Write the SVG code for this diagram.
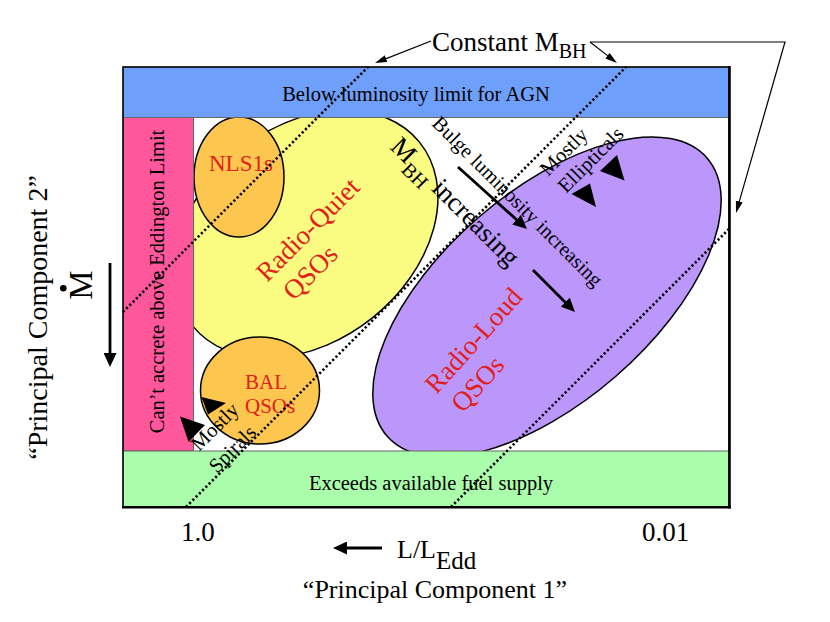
<svg xmlns="http://www.w3.org/2000/svg" width="830" height="622" viewBox="0 0 830 622">
<defs>
<marker id="headBig" markerUnits="userSpaceOnUse" markerWidth="15" markerHeight="13" refX="3" refY="6.5" orient="auto"><path d="M0,0 L14,6.5 L0,13 z" fill="#000"/></marker>
<marker id="headThin" markerUnits="userSpaceOnUse" markerWidth="13" markerHeight="8" refX="2" refY="3.5" orient="auto"><path d="M0,0 L12,3.5 L0,7 z" fill="#000"/></marker>
</defs>
<style>
.t{font-family:"Liberation Serif","Times New Roman",serif;fill:#000}
.red{fill:#E2201A}
.dot{fill:none;stroke:#000;stroke-width:2.6;stroke-dasharray:2.2 2.4}
.ell{stroke:#000;stroke-width:1.5}
.band{stroke:#666;stroke-width:1}
.arr{fill:none;stroke:#000;stroke-width:2.8;marker-end:url(#headBig)}
.thin{fill:none;stroke:#000;stroke-width:1.2;marker-end:url(#headThin)}
</style>
<rect width="830" height="622" fill="#fff"/>

<g id="radio-quiet">
<ellipse cx="306" cy="234" rx="146" ry="107" transform="rotate(-39 306 234)" fill="#FAFC82" class="ell"/>
<text class="t red" font-size="27" transform="translate(267,283) rotate(-45)"><tspan x="0" y="0">Radio-Quiet</tspan><tspan x="6" dy="32">QSOs</tspan></text>
</g>
<g id="radio-loud">
<ellipse cx="547" cy="297" rx="212" ry="105" transform="rotate(-41 547 297)" fill="#BB96FB" class="ell"/>
<text class="t red" font-size="27" transform="translate(436.6,395) rotate(-48)"><tspan x="0" y="0">Radio-Loud</tspan><tspan x="3.5" dy="32">QSOs</tspan></text>
</g>
<g id="nls1s">
<ellipse cx="239" cy="177" rx="45" ry="60" fill="#FDC64E" class="ell"/>
<text class="t red" font-size="23" x="209" y="170.5">NLS1s</text>
</g>
<g id="bal-qsos">
<ellipse cx="260" cy="390.5" rx="59.5" ry="53.5" fill="#FDC64E" class="ell"/>
<text class="t red" font-size="21"><tspan x="245" y="389">BAL</tspan><tspan x="245" y="413">QSOs</tspan></text>
</g>

<g id="below-luminosity">
<rect x="123" y="67" width="606" height="50.5" fill="#6E9FFA" class="band"/>
<text class="t" font-size="20.5" x="416" y="101" text-anchor="middle">Below luminosity limit for AGN</text>
</g>
<g id="eddington-limit">
<rect x="123" y="117.5" width="70.5" height="333.5" fill="#FF579C" class="band"/>
<text class="t" font-size="20.5" text-anchor="middle" transform="translate(164,281.5) rotate(-90)">Can’t accrete above Eddington Limit</text>
</g>
<g id="fuel-supply">
<rect x="123" y="451" width="606" height="56" fill="#AAFDAA" class="band"/>
<text class="t" font-size="20.5" x="431" y="490" text-anchor="middle">Exceeds available fuel supply</text>
</g>
<g id="frame">
<rect x="123" y="67" width="606" height="440" fill="none" stroke="#000" stroke-width="1.5"/>
<line x1="729.5" y1="66" x2="729.5" y2="508.5" stroke="#000" stroke-width="2.6"/>
<line x1="122" y1="507.2" x2="730.8" y2="507.2" stroke="#000" stroke-width="2.6"/>
</g>

<g id="constant-mbh-lines">
<path class="dot" d="M123,312 L368,67"/>
<path class="dot" d="M186,507 L626,67"/>
<path class="dot" d="M451,507 L729,229"/>
</g>

<g id="labels">
<text class="t" font-size="27" transform="translate(389,148) rotate(45)">M<tspan font-size="20" dy="8">BH</tspan><tspan dy="-8"> increasing</tspan></text>
<text class="t" font-size="20.5" transform="translate(431,124.5) rotate(45)">Bulge luminosity increasing</text>
<text class="t" font-size="20.5" transform="translate(548,177) rotate(-45)">Mostly</text>
<text class="t" font-size="20.5" transform="translate(566,194) rotate(-45)">Ellipticals</text>
<text class="t" font-size="20.5" transform="translate(199,452) rotate(-45)">Mostly</text>
<text class="t" font-size="20.5" transform="translate(217,474) rotate(-45)">Spirals</text>
<text class="t" font-size="27" x="432" y="51">Constant M<tspan font-size="20" dy="7">BH</tspan></text>
<text class="t" font-size="28" text-anchor="middle" transform="translate(47,317.5) rotate(-90)">“Principal Component 2”</text>
<text class="t" font-size="33" text-anchor="middle" transform="translate(92,285) rotate(-90)">M</text>
<circle cx="63.3" cy="288.3" r="3.3" fill="#000"/>
<text class="t" font-size="26" x="435" y="598" text-anchor="middle">“Principal Component 1”</text>
<text class="t" font-size="26" x="397" y="558">L/L<tspan dy="10.5" font-size="25">Edd</tspan></text>
<text class="t" font-size="27" x="181" y="541">1.0</text>
<text class="t" font-size="27" x="642" y="541">0.01</text>
</g>

<g id="markers">
<polygon points="201.5,397 226,403 208,414.5" fill="#000"/>
<polygon points="180,416.5 205,425 188.5,442" fill="#000"/>
<polygon points="600,171 617,155 624.5,180.5" fill="#000"/>
<polygon points="571.5,194 590,183.5 596,207" fill="#000"/>
</g>

<g id="connectors">
<path class="arr" d="M110,263 L110,356"/>
<path class="arr" d="M382,548 L344,548"/>
<path class="arr" d="M458,167 L518.8,221.7"/>
<path class="arr" d="M533,270 L567.2,304.2"/>
<path class="thin" d="M431,41 L384.3,59.35"/>
<path class="thin" d="M590,42 L609.1,56.9"/>
<path class="thin" d="M590,42 L785,42 L738.75,203.4"/>
</g>
</svg>
